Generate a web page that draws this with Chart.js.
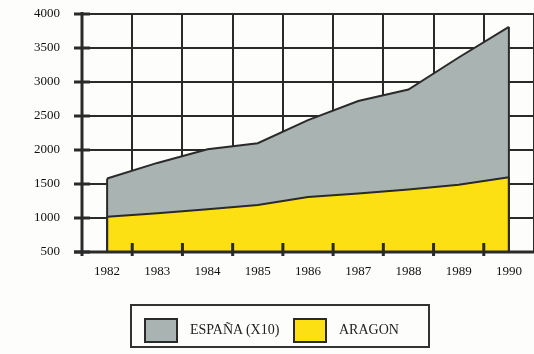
<!DOCTYPE html>
<html>
<head>
<meta charset="utf-8">
<script src="https://cdn.jsdelivr.net/npm/chart.js@4.4.1/dist/chart.umd.min.js"></script>
<style>
  body { margin: 0; background: #fdfdfb; }
  #wrap { position: relative; width: 534px; height: 354px; }
  #legend {
    position: absolute; left: 130px; top: 304px; width: 296px; height: 40px;
    border: 2px solid #333; box-sizing: content-box;
    font-family: "Liberation Serif", serif; font-size: 14px; color: #222;
  }
  .sw { position: absolute; top: 12px; width: 30px; height: 21px; border: 2px solid #2a2a2a; }
  .lb { position: absolute; top: 16px; }
</style>
</head>
<body>
<div id="wrap">
  <canvas id="chart" width="534" height="354"></canvas>
  <div id="legend">
    <span class="sw" style="left:12px; background:#a9b3b2"></span>
    <span class="lb" style="left:58px">ESPAÑA (X10)</span>
    <span class="sw" style="left:161px; background:#fde014"></span>
    <span class="lb" style="left:207px">ARAGON</span>
  </div>
</div>
<script>
// years on the x axis
var years = ["1982", "1983", "1984", "1985", "1986", "1987", "1988", "1989", "1990"];

// values
var espana = [1580, 1810, 2010, 2100, 2440, 2720, 2890, 3360, 3810];
var aragon = [1020, 1070, 1130, 1190, 1310, 1360, 1420, 1490, 1600];

var ink = "#2a2a2a";
var serif = "'Liberation Serif', 'Times New Roman', serif";

function line(ctx, x1, y1, x2, y2) {
    ctx.beginPath();
    ctx.moveTo(x1, y1);
    ctx.lineTo(x2, y2);
    ctx.stroke();
}

// edges of the areas, axis and tick marks drawn over the fills
var overlay = {
    id: "overlay",
    afterDatasetsDraw: function (chart) {
        var ctx = chart.ctx, a = chart.chartArea;
        var xs = chart.scales.x, ys = chart.scales.y;
        ctx.save();
        ctx.strokeStyle = ink;
        ctx.lineWidth = 2;
        chart.data.datasets.forEach(function (ds, i) {
            var pts = chart.getDatasetMeta(i).data;
            [pts[0], pts[pts.length - 1]].forEach(function (p) {
                line(ctx, p.x, p.y, p.x, a.bottom);
            });
        });
        ctx.lineWidth = 3;
        line(ctx, a.left - 8, a.bottom, a.right, a.bottom);
        for (var i = 0; i < years.length - 1; i++) {
            var px = (xs.getPixelForValue(i) + xs.getPixelForValue(i + 1)) / 2;
            line(ctx, px, a.bottom - 9, px, a.bottom + 4);
        }
        ys.ticks.forEach(function (t) {
            var py = ys.getPixelForValue(t.value);
            line(ctx, a.left - 8, py, a.left + 8, py);
        });
        line(ctx, a.left, a.top - 2, a.left, a.bottom + 4);
        ctx.restore();
    }
};

var ctx = document.getElementById("chart");

var chart = new Chart(ctx, {
    type: "line",
    data: {
        labels: years,
        datasets: [
            {
                label: "ESPAÑA (X10)",
                data: espana,
                borderColor: ink,
                borderWidth: 2,
                backgroundColor: "#a9b3b2",
                fill: "origin",
                pointRadius: 0,
                tension: 0,
                order: 2
            },
            {
                label: "ARAGON",
                data: aragon,
                borderColor: ink,
                borderWidth: 2,
                backgroundColor: "#fde014",
                fill: "origin",
                pointRadius: 0,
                tension: 0,
                order: 1
            }
        ]
    },
    options: {
        responsive: false,
        animation: false,
        layout: { padding: { top: 14, right: 0, bottom: 62, left: 0 } },
        plugins: {
            legend: { display: false },
            tooltip: { enabled: false }
        },
        scales: {
            x: {
                offset: true,
                afterFit: function (s) { s.height = 40; },
                grid: { offset: true, color: ink, lineWidth: 2, drawTicks: false },
                border: { display: false },
                ticks: { color: "#111", padding: 12, font: { family: serif, size: 13 } }
            },
            y: {
                min: 500,
                max: 4000,
                afterFit: function (s) {
                    s.width = 82;
                    s.paddingTop = 0;
                    s.paddingBottom = 0;
                },
                grid: { color: ink, lineWidth: 2, tickLength: 8 },
                border: { display: false },
                ticks: {
                    stepSize: 500,
                    color: "#111",
                    padding: 14,
                    font: { family: serif, size: 13 },
                    callback: function (v) { return String(v); }
                }
            }
        }
    },
    plugins: [overlay]
});
</script>
</body>
</html>
